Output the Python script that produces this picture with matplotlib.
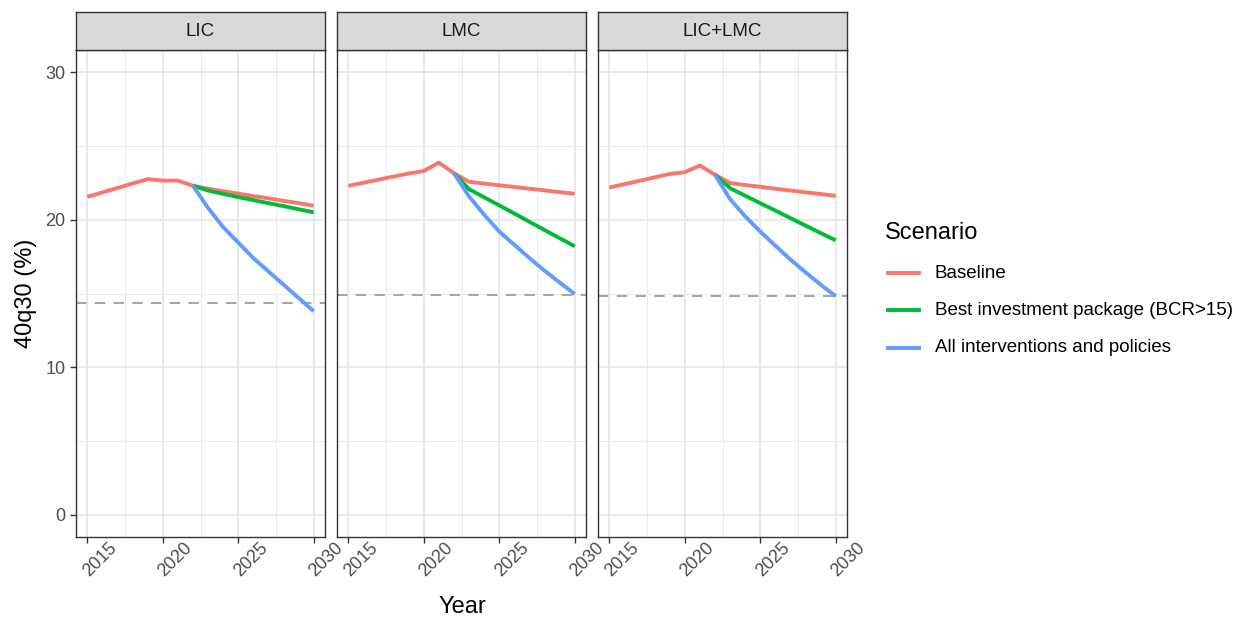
import numpy as np
import matplotlib
matplotlib.use("Agg")
import matplotlib.pyplot as plt
from matplotlib.lines import Line2D
from matplotlib.transforms import ScaledTranslation

plt.rcParams['font.family'] = ['Liberation Sans', 'DejaVu Sans']

# data
regions = ['LIC', 'LMC', 'LIC+LMC']
base_years = [2015, 2019, 2020, 2021, 2022, 2023, 2024, 2025, 2026, 2027, 2028, 2029, 2030]
scen_years = [2022, 2023, 2024, 2025, 2026, 2027, 2028, 2029, 2030]

baseline = {
    'LIC': [21.55, 22.75, 22.65, 22.65, 22.3, 22.1, 21.93, 21.77, 21.6, 21.45, 21.28, 21.12, 20.95],
    'LMC': [22.3, 23.13, 23.3, 23.87, 23.15, 22.57, 22.45, 22.33, 22.22, 22.1, 21.99, 21.87, 21.76],
    'LIC+LMC': [22.18, 23.1, 23.22, 23.67, 23.05, 22.48, 22.35, 22.23, 22.1, 21.98, 21.86, 21.74, 21.62],
}
best_pkg = {
    'LIC': [22.3, 21.98, 21.75, 21.53, 21.33, 21.12, 20.92, 20.71, 20.5],
    'LMC': [23.15, 22.07, 21.52, 20.97, 20.42, 19.86, 19.3, 18.75, 18.2],
    'LIC+LMC': [23.05, 22.14, 21.63, 21.12, 20.62, 20.11, 19.6, 19.1, 18.6],
}
all_int = {
    'LIC': [22.3, 20.8, 19.5, 18.45, 17.4, 16.5, 15.6, 14.7, 13.8],
    'LMC': [23.15, 21.58, 20.34, 19.2, 18.3, 17.4, 16.55, 15.75, 14.97],
    'LIC+LMC': [23.05, 21.4, 20.23, 19.2, 18.24, 17.3, 16.44, 15.6, 14.82],
}
target = {'LIC': 14.35, 'LMC': 14.93, 'LIC+LMC': 14.82}

scen_names = ['Baseline', 'Best investment package (BCR>15)', 'All interventions and policies']
scen_cols = ['#F8766D', '#00BA38', '#619CFF']

W, H = 1245, 619
fig = plt.figure(figsize=(W / 100, H / 100), dpi=100)

def px_axes(x0, y0, x1, y1):
    # pixel box (top-left origin) -> figure axes
    return fig.add_axes([x0 / W, 1 - y1 / H, (x1 - x0) / W, (y1 - y0) / H])

panel_x = [(76, 325), (337, 586), (598, 847)]
edge = '#333333'
lw = 2.8

for i, reg in enumerate(regions):
    x0, x1 = panel_x[i]
    ax = px_axes(x0, 50, x1, 537)
    ax.set_xlim(2014.25, 2030.75)
    ax.set_ylim(-1.5, 31.5)
    ax.set_xticks([2015, 2020, 2025, 2030])
    ax.set_xticks([2017.5, 2022.5, 2027.5], minor=True)
    ax.set_yticks([0, 10, 20, 30])
    ax.set_yticks([5, 15, 25], minor=True)
    ax.grid(which='major', color='#E5E5E5', lw=1.2)
    ax.grid(which='minor', color='#EBEBEB', lw=0.7)
    ax.set_axisbelow(True)
    for s in ax.spines.values():
        s.set_color(edge)
        s.set_linewidth(1.0)
    ax.tick_params(which='minor', length=0)
    ax.tick_params(which='major', length=4, width=1, color=edge, labelcolor='#4D4D4D',
                   labelsize=13)
    ax.tick_params(axis='x', pad=2)
    if i > 0:
        ax.tick_params(axis='y', labelleft=False, left=False)
    ax.set_xticklabels(['2015', '2020', '2025', '2030'])
    for lab in ax.get_xticklabels():
        lab.set_rotation(45)
        lab.set_rotation_mode('anchor')
        lab.set_ha('right')
        lab.set_va('center')
        lab.set_transform(lab.get_transform() + ScaledTranslation(0.27, 0.0, fig.dpi_scale_trans))

    ax.axhline(target[reg], color='#A6A6A6', lw=1.5, ls=(0, (5, 4)), zorder=1)
    ax.plot(base_years, baseline[reg], color=scen_cols[0], lw=lw, solid_capstyle='butt', zorder=3)
    ax.plot(scen_years, best_pkg[reg], color=scen_cols[1], lw=lw, solid_capstyle='butt', zorder=4)
    ax.plot(scen_years, all_int[reg], color=scen_cols[2], lw=lw, solid_capstyle='butt', zorder=5)

    st = px_axes(x0, 12, x1, 50)
    st.set_facecolor('#D9D9D9')
    st.set_xticks([])
    st.set_yticks([])
    for s in st.spines.values():
        s.set_color(edge)
        s.set_linewidth(1.0)
    st.text(0.5, 0.5, reg, ha='center', va='center', fontsize=13.5, color='#1A1A1A',
            transform=st.transAxes)

fig.text(26 / W, 1 - 293 / H, '40q30 (%)', rotation=90, ha='center', va='center', fontsize=17)
fig.text(462 / W, 1 - 607 / H, 'Year', ha='center', va='center', fontsize=17)

# legend
fig.text(885 / W, 1 - 233 / H, 'Scenario', ha='left', va='center', fontsize=17)
for k, (name, col) in enumerate(zip(scen_names, scen_cols)):
    yy = 1 - (273 + k * 37.5) / H
    fig.add_artist(Line2D([888 / W, 919 / W], [yy, yy], color=col, lw=lw))
    fig.text(935 / W, yy, name, ha='left', va='center', fontsize=13.5)

fig.savefig('out.png', dpi=100)
